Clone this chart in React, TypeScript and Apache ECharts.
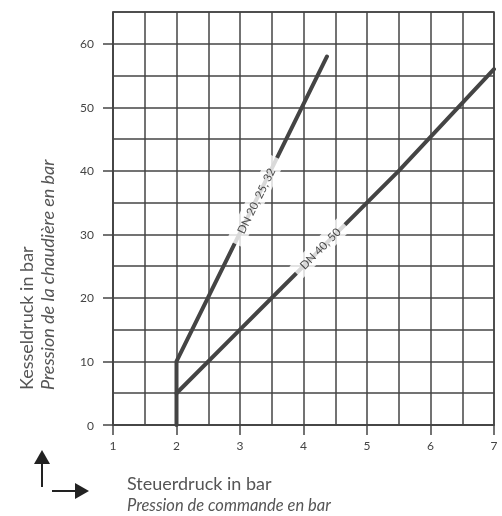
import React, { useEffect, useRef } from "react";
import * as echarts from "echarts";

const xTicks = [1, 2, 3, 4, 5, 6, 7];
const yTicks = [0, 10, 20, 30, 40, 50, 60];
const seriesSmall = [
  [2, 0],
  [2, 10],
  [4.37, 58],
];
const seriesLarge = [
  [2, 5],
  [3, 15],
  [5.5, 40],
  [7, 56],
];
const labelSmall = { name: "DN 20, 25, 32", pos: [3.25, 35.3], angle: 63.7 };
const labelLarge = { name: "DN 40, 50", pos: [4.26, 27.8], angle: 45.3 };

const INK = "#444";
const TEXT = "#555";
const FONT = "Lato, 'Open Sans', sans-serif";

export default function App() {
  const ref = useRef<HTMLDivElement>(null);
  useEffect(() => {
    if (!ref.current) return;
    const chart = echarts.init(ref.current, null, { renderer: "svg" });
    const gridAxis = {
      axisLine: { show: true, lineStyle: { color: INK, width: 1.5 } },
      splitLine: { show: true, lineStyle: { color: INK, width: 1.5 } },
      axisTick: { show: false },
      axisLabel: { show: false },
    };
    const tickAxis = (ticks: number[], margin: number) => ({
      axisLine: { show: false },
      splitLine: { show: false },
      axisTick: {
        show: true,
        length: 10,
        customValues: ticks,
        lineStyle: { color: INK, width: 1.5 },
      },
      axisLabel: {
        show: true,
        customValues: ticks,
        color: INK,
        fontSize: 12,
        fontFamily: FONT,
        margin,
      },
    });
    const labelSeries = (l: any, pad: number[]) => ({
      type: "scatter",
      symbolSize: 0,
      z: 5,
      silent: true,
      data: [l.pos],
      label: {
        show: true,
        position: "inside",
        formatter: l.name,
        rotate: l.angle,
        color: "#222",
        fontSize: 11.5,
        fontFamily: FONT,
        backgroundColor: "#fff",
        padding: pad,
      },
    });
    chart.setOption({
      animation: false,
      grid: {
        left: 113,
        right: 8,
        top: 12,
        bottom: 91,
        show: true,
        borderColor: INK,
        borderWidth: 1.5,
        backgroundColor: "transparent",
      },
      xAxis: [
        { type: "value", min: 1, max: 7, interval: 0.5, position: "bottom", ...gridAxis },
        { type: "value", min: 1, max: 7, interval: 1, position: "bottom", ...tickAxis(xTicks, 14) },
      ],
      yAxis: [
        { type: "value", min: 0, max: 65, interval: 5, position: "left", ...gridAxis },
        { type: "value", min: 0, max: 65, interval: 10, position: "left", ...tickAxis(yTicks, 19) },
      ],
      series: [
        {
          type: "line",
          data: seriesSmall,
          symbol: "none",
          lineStyle: { color: INK, width: 4, cap: "round" },
          z: 3,
        },
        {
          type: "line",
          data: seriesLarge,
          symbol: "none",
          lineStyle: { color: INK, width: 4, cap: "round" },
          z: 3,
        },
        labelSeries(labelSmall, [3, 12]),
        labelSeries(labelLarge, [3, 8]),
      ],
      graphic: [
        {
          type: "text",
          x: 26,
          y: 390,
          rotation: Math.PI / 2,
          style: {
            text: "Kesseldruck in bar",
            fill: TEXT,
            font: `18px ${FONT}`,
            textAlign: "left",
            textVerticalAlign: "middle",
          },
        },
        {
          type: "text",
          x: 47,
          y: 390,
          rotation: Math.PI / 2,
          style: {
            text: "Pression de la chaudière en bar",
            fill: TEXT,
            font: `italic 18px ${FONT}`,
            textAlign: "left",
            textVerticalAlign: "middle",
          },
        },
        {
          type: "text",
          x: 127,
          y: 483,
          style: {
            text: "Steuerdruck in bar",
            fill: TEXT,
            font: `18px ${FONT}`,
            textAlign: "left",
            textVerticalAlign: "middle",
          },
        },
        {
          type: "text",
          x: 127,
          y: 505,
          style: {
            text: "Pression de commande en bar",
            fill: TEXT,
            font: `italic 16.5px ${FONT}`,
            textAlign: "left",
            textVerticalAlign: "middle",
          },
        },
        {
          type: "line",
          shape: { x1: 42, y1: 487, x2: 42, y2: 462 },
          style: { stroke: "#222", lineWidth: 2 },
        },
        {
          type: "polygon",
          shape: { points: [[34, 464], [50, 464], [42, 450]] },
          style: { fill: "#222" },
        },
        {
          type: "line",
          shape: { x1: 52, y1: 491, x2: 77, y2: 491 },
          style: { stroke: "#222", lineWidth: 2 },
        },
        {
          type: "polygon",
          shape: { points: [[75, 483], [75, 499], [89, 491]] },
          style: { fill: "#222" },
        },
      ],
    });
    return () => chart.dispose();
  }, []);
  return (
    <div
      ref={ref}
      style={{ position: "fixed", left: 0, top: 0, width: 502, height: 516 }}
    />
  );
}
